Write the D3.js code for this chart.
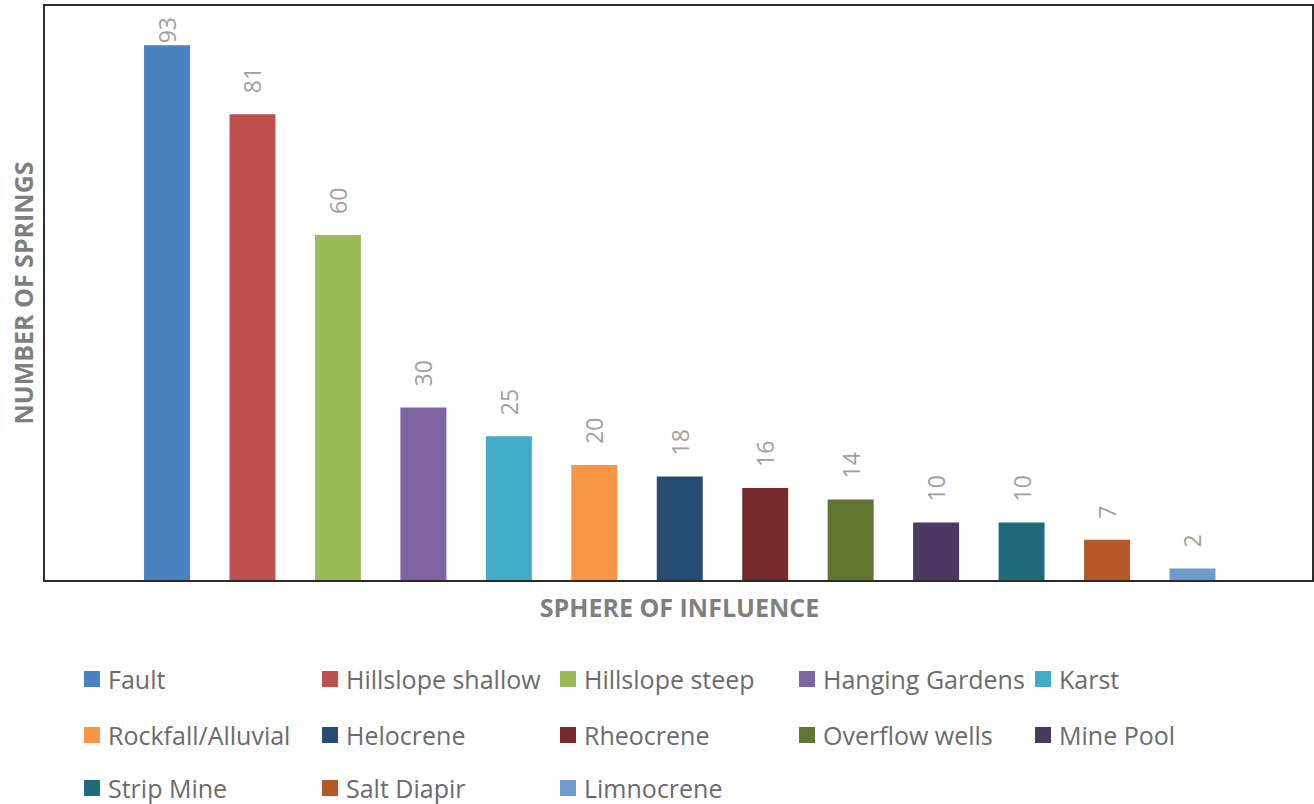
<!DOCTYPE html>
<html>
<head>
<meta charset="utf-8">
<script src="https://cdn.jsdelivr.net/npm/d3@7"></script>
<style>
  body { margin: 0; background: #fff; }
  text { font-family: "Open Sans", Lato, sans-serif; }
</style>
</head>
<body>
<script>
const categories = [
  "Fault", "Hillslope shallow", "Hillslope steep", "Hanging Gardens", "Karst",
  "Rockfall/Alluvial", "Helocrene", "Rheocrene", "Overflow wells", "Mine Pool",
  "Strip Mine", "Salt Diapir", "Limnocrene"
]
const springCounts = [93, 81, 60, 30, 25, 20, 18, 16, 14, 10, 10, 7, 2]
const barColors = [
  "#4a81c0", "#c0504d", "#9bbb59", "#8064a2", "#41acc6",
  "#f79646", "#264b75", "#772b2b", "#5f7530", "#4a3961",
  "#206b7b", "#b65727", "#6f9acd"
]
const yDomain = [0, 100]
const xTitle = "SPHERE OF INFLUENCE"
const yTitle = "NUMBER OF SPRINGS"

const width = 1314
const height = 804
const box = {left: 44, top: 5, right: 1313, bottom: 580}

const svg = d3.select("body")
  .append("svg")
  .attr("width", width)
  .attr("height", height)

svg.append("rect")
  .attr("width", width)
  .attr("height", height)
  .attr("fill", "#fff")

const x = d3.scaleBand()
  .domain(categories)
  .range([124.3, 1235.2])
  .paddingInner(0.462)
  .paddingOuter(0.231)

const y = d3.scaleLinear()
  .domain(yDomain)
  .range([box.bottom, box.top])

const data = categories.map((c, i) => ({name: c, value: springCounts[i], color: barColors[i]}))

// bars
svg.append("g")
  .selectAll("rect")
  .data(data)
  .join("rect")
  .attr("x", d => x(d.name))
  .attr("y", d => y(d.value))
  .attr("width", x.bandwidth())
  .attr("height", d => y(0) - y(d.value))
  .attr("fill", d => d.color)

// frame round the plot
svg.append("rect")
  .attr("x", box.left)
  .attr("y", box.top)
  .attr("width", box.right - box.left)
  .attr("height", box.bottom - box.top + 1)
  .attr("fill", "none")
  .attr("stroke", "#2b2b2b")
  .attr("stroke-width", 2)

// value labels, turned on their side
const labels = svg.append("g")
  .selectAll("text")
  .data(data)
  .join("text")
  .attr("font-size", 23)
  .attr("fill", "#a0a0a0")
  .attr("dominant-baseline", "central")
  .text(d => d.value)

labels.each(function(d) {
  const len = this.getComputedTextLength()
  // keep the label inside the frame when the bar is tall
  const start = Math.max(y(d.value) - 21, box.top + 12 + len)
  const cx = x(d.name) + x.bandwidth() / 2
  d3.select(this)
    .attr("transform", `translate(${cx},${start}) rotate(-90)`)
})

// axis titles
svg.append("text")
  .attr("x", 679.5)
  .attr("y", 607)
  .attr("text-anchor", "middle")
  .attr("dominant-baseline", "central")
  .attr("font-size", 25)
  .attr("font-weight", "bold")
  .attr("fill", "#7f7f7f")
  .text(xTitle)

svg.append("text")
  .attr("transform", "translate(23,293) rotate(-90)")
  .attr("text-anchor", "middle")
  .attr("dominant-baseline", "central")
  .attr("font-size", 25)
  .attr("font-weight", "bold")
  .attr("fill", "#7f7f7f")
  .text(yTitle)

// legend, five columns
const colX = [84, 322, 560, 799, 1035]
const rowY = [679, 735, 788]

const items = svg.append("g")
  .selectAll("g")
  .data(data)
  .join("g")
  .attr("transform", (d, i) => `translate(${colX[i % 5]},${rowY[Math.floor(i / 5)]})`)

items.append("rect")
  .attr("y", -8)
  .attr("width", 16)
  .attr("height", 16)
  .attr("fill", d => d.color)

items.append("text")
  .attr("x", 24)
  .attr("dominant-baseline", "central")
  .attr("font-size", 25)
  .attr("fill", "#6b6b6b")
  .text(d => d.name)
</script>
</body>
</html>
